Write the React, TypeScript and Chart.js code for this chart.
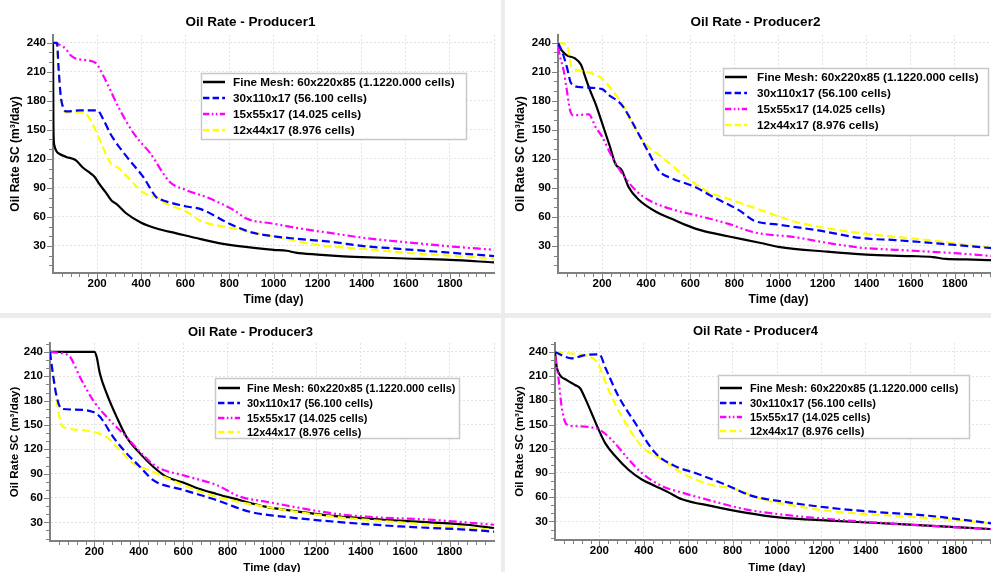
import React, { useEffect, useRef } from "react";
import { Chart, registerables } from "chart.js";

Chart.register(...registerables);

const FONT = '"Liberation Sans", Arial, Helvetica, sans-serif';

// ---------- shared labels / styles ----------
const seriesLabels = [
  "Fine Mesh: 60x220x85 (1.1220.000 cells)",
  "30x110x17 (56.100 cells)",
  "15x55x17 (14.025 cells)",
  "12x44x17 (8.976 cells)",
];
const seriesColors = ["#000000", "#0000ff", "#ff00ff", "#ffff00"];
const seriesDashes: number[][] = [[], [8, 4], [8, 3, 2, 3, 2, 3], [8, 4]];

const xAxisTitle = "Time (day)";
const yAxisTitle = "Oil Rate SC (m³/day)";
const xMin = 0;
const xMax = 2000;
const xTickStep = 200;
const xMinorStep = 40;
const yTickStep = 30;
const yMinorStep = 10;

// ---------- Producer1 ----------
const p1FineDays = [0, 2, 6, 15, 30, 60, 100, 115, 135, 170, 190, 210, 240, 265, 290, 330, 400, 470, 560, 670, 800, 1000, 1060, 1100, 1200, 1300, 1400, 1600, 1800, 2000];
const p1FineRate = [240, 150, 134, 128, 125, 122, 119, 116, 111, 105, 101, 94, 85, 77, 73, 64, 54, 48, 43, 37, 31, 26, 25, 23, 21, 19.5, 18.5, 17, 15.5, 13];
const p1M30Days = [0, 18, 25, 35, 48, 60, 120, 200, 230, 260, 335, 410, 470, 500, 600, 670, 800, 900, 1000, 1100, 1270, 1400, 1570, 1800, 2000];
const p1M30Rate = [240, 240, 215, 185, 172, 169, 170, 170, 160, 146, 122, 101, 80, 77, 71, 68, 53, 44, 40, 37.5, 34, 30, 27, 23, 19.5];
const p1M15Days = [0, 20, 45, 60, 80, 100, 150, 195, 230, 260, 300, 370, 440, 530, 600, 700, 820, 880, 1000, 1120, 1270, 1420, 1570, 1800, 2000];
const p1M15Rate = [240, 239, 236, 233, 227, 224, 222, 219, 205, 191, 172, 145, 126, 96, 88, 80, 67, 58, 53, 48, 43, 38, 34.5, 29.5, 26];
const p1M12Days = [0, 15, 25, 35, 50, 60, 100, 140, 170, 200, 230, 260, 300, 335, 410, 470, 520, 600, 680, 800, 900, 1000, 1200, 1400, 1600, 1800, 2000];
const p1M12Rate = [240, 240, 213, 185, 170, 168, 168, 168, 160, 146, 130, 116, 110, 102, 85, 80, 73, 66, 55, 49, 44, 40, 31, 27, 23, 20, 17];

// ---------- Producer2 ----------
const p2FineDays = [0, 17, 40, 75, 105, 120, 145, 170, 200, 235, 260, 290, 320, 365, 455, 515, 575, 650, 770, 920, 1000, 1220, 1400, 1600, 1700, 1760, 1850, 2000];
const p2FineRate = [237, 232, 227, 224, 217, 207, 191, 177, 157, 133, 115, 108, 91, 78, 64, 58, 52, 46, 40, 33, 29, 24, 21, 19.5, 18.5, 16.5, 16, 15];
const p2M30Days = [0, 17, 40, 60, 105, 200, 230, 275, 295, 365, 410, 460, 515, 620, 700, 820, 890, 1000, 1180, 1380, 1530, 1800, 2000];
const p2M30Rate = [240, 232, 215, 198, 194, 192, 186, 179, 174, 146, 127, 107, 100, 91, 81, 67, 56, 52, 46, 38, 36, 31, 27];
const p2M15Days = [0, 10, 25, 40, 55, 70, 140, 170, 200, 245, 290, 350, 410, 530, 620, 770, 890, 1075, 1225, 1380, 1530, 1800, 2000];
const p2M15Rate = [236, 225, 212, 191, 170, 165, 166, 153, 143, 122, 105, 88, 77.5, 67, 62, 53, 44, 39, 33, 28, 26, 22.5, 19];
const p2M12Days = [0, 40, 62, 105, 170, 200, 245, 290, 335, 395, 470, 560, 680, 770, 920, 1075, 1200, 1380, 1680, 2000];
const p2M12Rate = [240, 238, 215, 211, 207, 203, 191, 177, 157, 136, 122, 105, 86, 79, 67, 55, 49, 43, 36, 27];

// ---------- Producer3 ----------
const p3FineDays = [0, 200, 210, 225, 255, 300, 345, 405, 465, 525, 600, 675, 750, 825, 975, 1125, 1275, 1575, 1875, 2000];
const p3FineRate = [240, 240, 234, 213, 189, 160, 135, 115, 98.5, 86, 79, 71, 65, 59.5, 49, 43, 38, 32, 27, 23];
const p3M30Days = [0, 15, 30, 52, 105, 195, 225, 285, 345, 405, 465, 600, 750, 900, 1050, 1275, 1575, 1875, 2000];
const p3M30Rate = [240, 209, 185, 170, 169, 166, 160, 135, 115, 98.5, 82, 70, 57.5, 43, 37, 31, 25, 21, 18.5];
const p3M15Days = [0, 60, 90, 135, 195, 255, 345, 405, 480, 600, 750, 855, 975, 1275, 1425, 1725, 2000];
const p3M15Rate = [240, 238, 234, 209, 180, 160, 135, 117, 98.5, 88, 76, 61.6, 55.4, 41, 37, 33, 27];
const p3M12Days = [0, 15, 37, 52, 75, 195, 255, 315, 375, 450, 600, 750, 975, 1275, 1575, 2000];
const p3M12Rate = [240, 213, 168, 150, 146, 141.6, 135, 119, 102.6, 94, 76, 61.6, 49, 37, 30, 20.6];

// ---------- Producer4 ----------
const p4FineDays = [0, 3, 8, 23, 53, 90, 113, 135, 165, 196, 226, 271, 331, 391, 451, 511, 572, 707, 857, 1008, 1233, 1534, 2000];
const p4FineRate = [240, 232, 221, 211, 205, 199, 195, 183, 164, 144, 127, 111, 94, 82, 74, 66, 57.5, 49, 41, 35, 31, 27, 20];
const p4M30Days = [0, 45, 75, 135, 200, 226, 286, 361, 451, 541, 632, 782, 887, 1008, 1233, 1383, 1684, 2000];
const p4M30Rate = [240, 234, 232, 236, 237, 221, 185, 152, 115, 98.5, 90, 74, 61.6, 55.4, 47, 43, 37, 26.5];
const p4M15Days = [0, 15, 30, 53, 90, 196, 256, 331, 391, 481, 572, 707, 857, 1008, 1233, 1534, 2000];
const p4M15Rate = [235, 209, 172, 150, 148, 144, 131, 107, 90, 74, 65.7, 55.4, 45, 39, 33, 27, 20];
const p4M12Days = [0, 75, 135, 180, 200, 241, 301, 391, 481, 572, 692, 812, 932, 1083, 1233, 1534, 1835, 2000];
const p4M12Rate = [240, 238, 236, 230, 221.5, 193, 160, 123, 107, 90, 76, 70, 57.5, 49.3, 43, 37, 31, 26];

type LegendSpec = { x: number; y: number; w: number; h: number; rows: number[]; sampleX: number; sampleLen: number; textX: number; fontSize: number };
type PanelSpec = {
  title: string;
  series: [number[], number[]][];
  yMin: number;
  yMax: number;
  left: number;
  top: number;
  width: number;
  height: number;
  area: { left: number; top: number; right: number; bottom: number };
  titleY: number;
  titleSize: number;
  tickSize: number;
  axisTitleSize: number;
  xTitleBottom: number;
  legend: LegendSpec;
};

const panels: PanelSpec[] = [
  {
    title: "Oil Rate - Producer1",
    series: [[p1FineDays, p1FineRate], [p1M30Days, p1M30Rate], [p1M15Days, p1M15Rate], [p1M12Days, p1M12Rate]],
    yMin: 2, yMax: 248,
    left: 0, top: 0, width: 501, height: 313,
    area: { left: 53, top: 35, right: 494, bottom: 273 },
    titleY: 22, titleSize: 13.5, tickSize: 11.5, axisTitleSize: 12, xTitleBottom: 6,
    legend: { x: 201, y: 73, w: 265, h: 66, rows: [82, 98, 114, 130], sampleX: 203, sampleLen: 22, textX: 233, fontSize: 11.7 },
  },
  {
    title: "Oil Rate - Producer2",
    series: [[p2FineDays, p2FineRate], [p2M30Days, p2M30Rate], [p2M15Days, p2M15Rate], [p2M12Days, p2M12Rate]],
    yMin: 2, yMax: 248,
    left: 505, top: 0, width: 501, height: 313,
    area: { left: 53, top: 35, right: 494, bottom: 273 },
    titleY: 22, titleSize: 13.5, tickSize: 11.5, axisTitleSize: 12, xTitleBottom: 6,
    legend: { x: 218, y: 68, w: 265, h: 67, rows: [77, 93, 109, 125], sampleX: 220, sampleLen: 22, textX: 252, fontSize: 11.7 },
  },
  {
    title: "Oil Rate - Producer3",
    series: [[p3FineDays, p3FineRate], [p3M30Days, p3M30Rate], [p3M15Days, p3M15Rate], [p3M12Days, p3M12Rate]],
    yMin: 7, yMax: 251,
    left: 0, top: 318, width: 501, height: 272,
    area: { left: 50, top: 25, right: 494, bottom: 223 },
    titleY: 14, titleSize: 13, tickSize: 11.5, axisTitleSize: 11.5, xTitleBottom: 15,
    legend: { x: 215, y: 60, w: 244, h: 60, rows: [70, 85, 100, 114], sampleX: 218, sampleLen: 22, textX: 247, fontSize: 11 },
  },
  {
    title: "Oil Rate - Producer4",
    series: [[p4FineDays, p4FineRate], [p4M30Days, p4M30Rate], [p4M15Days, p4M15Rate], [p4M12Days, p4M12Rate]],
    yMin: 7, yMax: 251,
    left: 505, top: 318, width: 501, height: 272,
    area: { left: 50, top: 25, right: 494, bottom: 222 },
    titleY: 13, titleSize: 13, tickSize: 11.5, axisTitleSize: 11.5, xTitleBottom: 15,
    legend: { x: 213, y: 57, w: 251, h: 63, rows: [70, 85, 99, 113], sampleX: 215, sampleLen: 22, textX: 245, fontSize: 11 },
  },
];

const decorPlugin = {
  id: "decor",
  afterDraw(chart: any, _args: any, opts: any) {
    const spec: PanelSpec = opts.spec;
    if (!spec) return;
    const { ctx, chartArea, scales } = chart;
    const xs = scales.x;
    const ys = scales.y;
    ctx.save();
    // minor / major tick marks
    ctx.strokeStyle = "#808080";
    ctx.lineWidth = 1;
    ctx.setLineDash([]);
    for (let v = Math.ceil(ys.min / yMinorStep) * yMinorStep; v <= ys.max; v += yMinorStep) {
      const py = Math.round(ys.getPixelForValue(v)) + 0.5;
      const len = v % yTickStep === 0 ? 5 : 3;
      ctx.beginPath();
      ctx.moveTo(chartArea.left - 1 - len, py);
      ctx.lineTo(chartArea.left, py);
      ctx.stroke();
    }
    for (let v = xMinorStep; v < xs.max; v += xMinorStep) {
      const px = Math.round(xs.getPixelForValue(v)) + 0.5;
      const len = v % xTickStep === 0 ? 5 : 3;
      ctx.beginPath();
      ctx.moveTo(px, chartArea.bottom);
      ctx.lineTo(px, chartArea.bottom + 1 + len);
      ctx.stroke();
    }
    // title
    ctx.fillStyle = "#000";
    ctx.font = `bold ${spec.titleSize}px ${FONT}`;
    ctx.textAlign = "center";
    ctx.textBaseline = "middle";
    ctx.fillText(spec.title, spec.width / 2, spec.titleY);
    // legend
    const lg = spec.legend;
    ctx.fillStyle = "#ffffff";
    ctx.fillRect(lg.x, lg.y, lg.w, lg.h);
    ctx.strokeStyle = "#c8c8c8";
    ctx.lineWidth = 1.5;
    ctx.strokeRect(lg.x + 0.5, lg.y + 0.5, lg.w, lg.h);
    ctx.font = `bold ${lg.fontSize}px ${FONT}`;
    ctx.textAlign = "left";
    for (let i = 0; i < seriesLabels.length; i++) {
      const yy = lg.rows[i];
      ctx.strokeStyle = seriesColors[i];
      ctx.lineWidth = 2.5;
      ctx.setLineDash(seriesDashes[i].length ? seriesDashes[i].map((d) => d * 0.8) : []);
      ctx.beginPath();
      ctx.moveTo(lg.sampleX, yy);
      ctx.lineTo(lg.sampleX + lg.sampleLen, yy);
      ctx.stroke();
      ctx.setLineDash([]);
      ctx.fillStyle = "#000";
      ctx.fillText(seriesLabels[i], lg.textX, yy + 0.5);
    }
    ctx.restore();
  },
};

function PanelChart({ spec }: { spec: PanelSpec }) {
  const ref = useRef<HTMLCanvasElement | null>(null);
  useEffect(() => {
    if (!ref.current) return;
    const datasets = spec.series.map(([days, rates], i) => ({
      label: seriesLabels[i],
      data: days.map((d, k) => ({ x: d, y: rates[k] })),
      borderColor: seriesColors[i],
      backgroundColor: seriesColors[i],
      borderWidth: 2.2,
      borderDash: seriesDashes[i],
      pointRadius: 0,
      cubicInterpolationMode: "monotone" as const,
      fill: false,
      borderJoinStyle: "round" as const,
    }));
    // draw black last so it sits on top like the original
    const ordered = [datasets[1], datasets[2], datasets[3], datasets[0]];
    const chart = new Chart(ref.current, {
      type: "line",
      data: { datasets: ordered },
      plugins: [decorPlugin],
      options: {
        responsive: false,
        animation: false,
        devicePixelRatio: 1,
        layout: { padding: { left: 0, top: spec.area.top, right: spec.width - spec.area.right, bottom: 0 } },
        plugins: {
          legend: { display: false },
          title: { display: false },
          tooltip: { enabled: false },
          decor: { spec },
        } as any,
        scales: {
          x: {
            type: "linear",
            min: xMin,
            max: xMax,
            ticks: {
              stepSize: xTickStep,
              autoSkip: false,
              maxRotation: 0,
              padding: 4,
              color: "#000",
              font: { family: FONT, size: spec.tickSize, weight: "bold" },
              callback: (v: any) => (v > xMin && v < xMax ? String(v) : ""),
            },
            grid: {
              drawTicks: false,
              lineWidth: 1,
              color: (c: any) => (c.tick && c.tick.value > xMin ? "#e2e2e2" : "rgba(0,0,0,0)"),
            },
            border: { display: true, color: "#808080", width: 2, dash: [2, 2] },
            title: {
              display: true,
              text: xAxisTitle,
              color: "#000",
              font: { family: FONT, size: spec.axisTitleSize, weight: "bold" },
              padding: { top: 0, bottom: spec.xTitleBottom },
            },
            afterFit: (s: any) => {
              s.height = spec.height - spec.area.bottom;
            },
          },
          y: {
            type: "linear",
            min: spec.yMin,
            max: spec.yMax,
            ticks: {
              stepSize: yTickStep,
              includeBounds: false,
              padding: 7,
              color: "#000",
              font: { family: FONT, size: spec.tickSize, weight: "bold" },
            },
            grid: { drawTicks: false, lineWidth: 1, color: "#e2e2e2" },
            border: { display: true, color: "#808080", width: 2, dash: [2, 2] },
            title: {
              display: true,
              text: yAxisTitle,
              color: "#000",
              font: { family: FONT, size: spec.axisTitleSize, weight: "bold" },
              padding: { top: 8, bottom: 0 },
            },
            afterFit: (s: any) => {
              s.width = spec.area.left;
            },
          },
        },
      } as any,
    });
    return () => chart.destroy();
  }, [spec]);
  return (
    <canvas
      ref={ref}
      width={spec.width}
      height={spec.height}
      style={{ position: "absolute", left: spec.left, top: spec.top, width: spec.width, height: spec.height }}
    />
  );
}

export default function App() {
  return (
    <div
      style={{
        position: "fixed",
        left: 0,
        top: 0,
        width: 991,
        height: 572,
        overflow: "hidden",
        background: "#ffffff",
      }}
    >
      {panels.map((p) => (
        <PanelChart key={p.title} spec={p} />
      ))}
      <div style={{ position: "absolute", left: 501, top: 0, width: 4, height: 572, background: "#ececec" }} />
      <div style={{ position: "absolute", left: 0, top: 313, width: 991, height: 5, background: "#ececec" }} />
    </div>
  );
}
